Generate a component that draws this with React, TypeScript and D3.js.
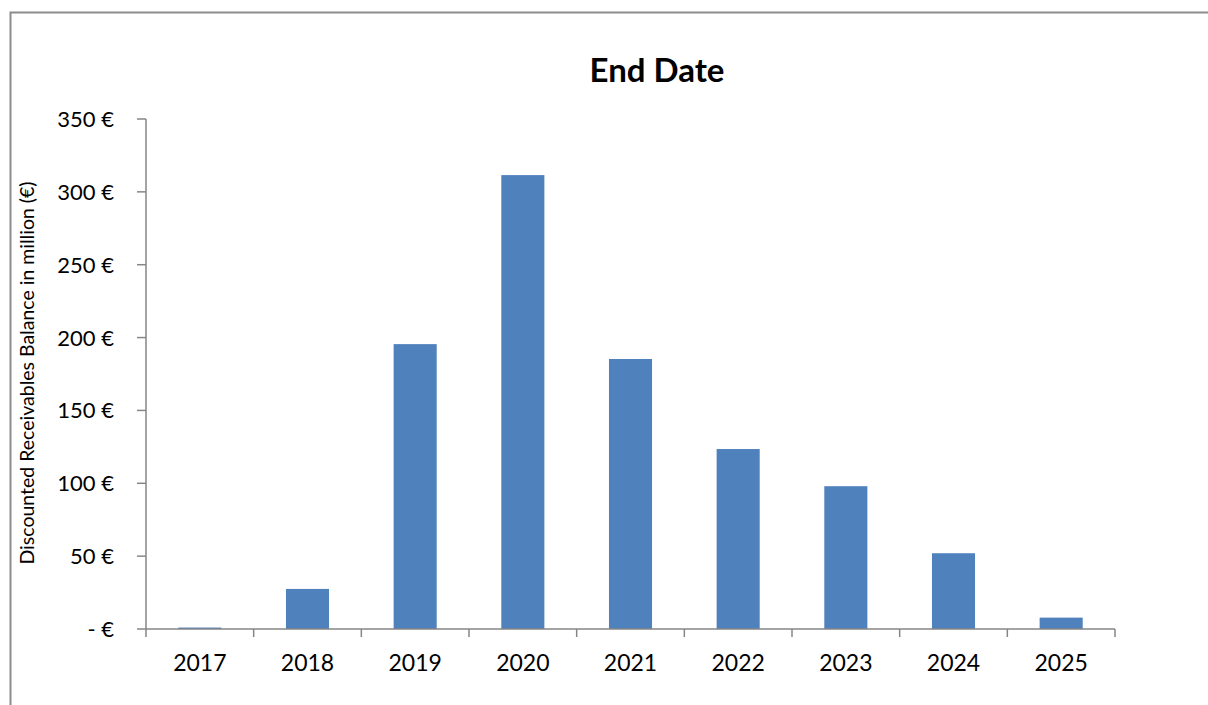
import React from "react";
import * as d3 from "d3";

const categories = ["2017", "2018", "2019", "2020", "2021", "2022", "2023", "2024", "2025"];
const values = [1, 27.5, 195.5, 311.5, 185.3, 123.5, 98, 52, 7.8];
const yTicks = [0, 50, 100, 150, 200, 250, 300, 350];
const title = "End Date";
const yTitle = "Discounted Receivables Balance in million (€)";

const W = 1208, H = 705;
const left = 146, right = 1115, top = 119, bottom = 629;
const font = "Lato, 'Open Sans', sans-serif";

export default function App() {
  const x = d3.scaleBand<string>().domain(categories).range([left, right]).paddingInner(0.6).paddingOuter(0.3);
  const xb = d3.scaleBand<string>().domain(categories).range([left, right]);
  const y = d3.scaleLinear().domain([0, 350]).range([bottom, top]);
  const axisColor = "#868686";
  const fmt = (v: number) => (v === 0 ? "- €" : `${v} €`);
  return (
    <svg width={W} height={H} style={{ position: "fixed", left: 0, top: 0, background: "#fff" }}>
      <rect x={0} y={0} width={W} height={H} fill="#fff" />
      <path d={`M10.5,${H + 5} V12.5 H${W + 5}`} fill="none" stroke="#8c8c8c" strokeWidth={2} />
      <text x={657} y={82} textAnchor="middle" fontFamily={font} fontWeight="bold" fontSize={33} fill="#000">{title}</text>
      {values.map((v, i) => (
        <rect key={i} x={x(categories[i])!} y={y(v)} width={x.bandwidth()} height={y(0) - y(v)} fill="#4F81BD" />
      ))}
      <line x1={left} x2={left} y1={top} y2={bottom} stroke={axisColor} strokeWidth={1.5} />
      {yTicks.map((t) => (
        <g key={t}>
          <line x1={left - 9} x2={left} y1={y(t)} y2={y(t)} stroke={axisColor} strokeWidth={1.5} />
          <text x={114} y={y(t) + 8} textAnchor="end" fontFamily={font} fontSize={22} fill="#000">{fmt(t)}</text>
        </g>
      ))}
      <line x1={left} x2={right} y1={bottom} y2={bottom} stroke={axisColor} strokeWidth={1.5} />
      {[...categories.map((c) => xb(c)!), right].map((px, i) => (
        <line key={i} x1={px} x2={px} y1={bottom} y2={bottom + 8} stroke={axisColor} strokeWidth={1.5} />
      ))}
      {categories.map((c) => (
        <text key={c} x={xb(c)! + xb.bandwidth() / 2} y={671} textAnchor="middle" fontFamily={font} fontSize={23} fill="#000">{c}</text>
      ))}
      <text transform={`translate(34,373) rotate(-90)`} textAnchor="middle" fontFamily={font} fontSize={19.5} fill="#000">{yTitle}</text>
    </svg>
  );
}
